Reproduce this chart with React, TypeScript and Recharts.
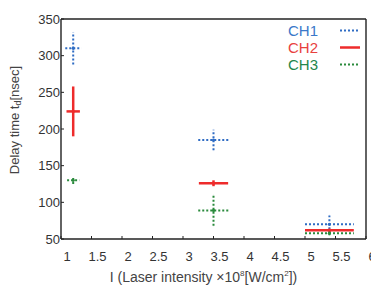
import React from 'react';
import { ScatterChart, Scatter, XAxis, YAxis, ErrorBar, Legend } from 'recharts';

// Laser intensity (×10^8 W/cm²) at which each group of delays was measured
const intensity = [1.2, 3.5, 5.4];

// Delay time t_d [nsec] per channel, with spreads in delay and intensity
const ch1Delay = [310, 185, 70];
const ch1DelayErr = [22, 14, 12];
const ch1IntensityErr = [0.13, 0.25, 0.4];

const ch2Delay = [224, 126, 62];
const ch2DelayErr = [34, 4, 2];
const ch2IntensityErr = [0.11, 0.24, 0.4];

const ch3Delay = [130, 89, 58];
const ch3DelayErr = [5, 21, 3];
const ch3IntensityErr = [0.1, 0.25, 0.4];

const xTicks = [1, 1.5, 2, 2.5, 3, 3.5, 4, 4.5, 5, 5.5, 6];
const yTicks = [50, 100, 150, 200, 250, 300, 350];

const channels = [
  { name: 'CH1', color: '#2f6cc4', text: '#3a78c9', width: 2, dash: '2 2', delay: ch1Delay, delayErr: ch1DelayErr, intErr: ch1IntensityErr },
  { name: 'CH2', color: '#ee2b2b', text: '#e8413e', width: 2.5, dash: undefined, delay: ch2Delay, delayErr: ch2DelayErr, intErr: ch2IntensityErr },
  { name: 'CH3', color: '#2a8a3c', text: '#23874a', width: 2, dash: '2 2', delay: ch3Delay, delayErr: ch3DelayErr, intErr: ch3IntensityErr },
];

const buildRows = (delay: number[], delayErr: number[], intErr: number[]) =>
  intensity.map((x, i) => ({ intensity: x, delay: delay[i], delayErr: delayErr[i], intensityErr: intErr[i] }));

const FONT = '"Liberation Sans", Arial, Helvetica, sans-serif';
const AXIS = '#222';

const BottomTick = (props: any) => {
  const { x, y, payload } = props;
  return (
    <g>
      <line x1={x} x2={x} y1={y} y2={y - 3} stroke={AXIS} strokeWidth={1} />
      <text x={x + 6} y={y + 22} textAnchor="middle" fontSize={13} fontFamily={FONT} fill="#333">
        {payload.value}
      </text>
    </g>
  );
};

const TopTick = (props: any) => {
  const { x, y } = props;
  return <line x1={x} x2={x} y1={y} y2={y + 3} stroke={AXIS} strokeWidth={1} />;
};

const LeftTick = (props: any) => {
  const { x, y, payload } = props;
  return (
    <g>
      <line x1={x} x2={x + 3} y1={y} y2={y} stroke={AXIS} strokeWidth={1} />
      <text x={x - 1} y={y + 4.5} textAnchor="end" fontSize={13} fontFamily={FONT} fill="#333">
        {payload.value}
      </text>
    </g>
  );
};

const RightTick = (props: any) => {
  const { x, y } = props;
  return <line x1={x} x2={x - 3} y1={y} y2={y} stroke={AXIS} strokeWidth={1} />;
};

const XLabel = (props: any) => {
  const { viewBox } = props;
  const cx = viewBox.x + viewBox.width / 2 - 10;
  const y = viewBox.y + 43;
  return (
    <text x={cx} y={y} textAnchor="middle" fontSize={14} fontFamily={FONT} fill="#444">
      I (Laser intensity ×10
      <tspan fontSize={8} dy={-6}>8</tspan>
      <tspan dy={6}>[W/cm</tspan>
      <tspan fontSize={8} dy={-6}>2</tspan>
      <tspan dy={6}>])</tspan>
    </text>
  );
};

const YLabel = () => {
  const bx = 19;
  const cy = 120;
  return (
    <text
      transform={`translate(${bx},${cy}) rotate(-90)`}
      x={0}
      y={0}
      textAnchor="middle"
      fontSize={13}
      fontFamily={FONT}
      fill="#444"
    >
      Delay time t
      <tspan fontSize={9} dy={2}>d</tspan>
      <tspan dy={-2}>[nsec]</tspan>
    </text>
  );
};

const LegendBox = () => (
  <div style={{ fontFamily: FONT, fontSize: 15, lineHeight: '17px' }}>
    {channels.map((c) => (
      <div key={c.name} style={{ display: 'flex', alignItems: 'center', height: 17 }}>
        <span style={{ width: 38, textAlign: 'right', color: c.text }}>{c.name}</span>
        <svg width={42} height={17} style={{ display: 'block' }}>
          <line x1={22} x2={42} y1={8.5} y2={8.5} stroke={c.color} strokeWidth={c.width} strokeDasharray={c.dash} />
        </svg>
      </div>
    ))}
  </div>
);

const CenterDot = (color: string) => (props: any) => {
  const { cx, cy } = props;
  return <circle cx={cx} cy={cy} r={1.6} fill={color} />;
};

export default function App() {
  return (
    <div style={{ position: 'absolute', left: 0, top: 0, width: 371, height: 289, background: '#fff' }}>
      <ScatterChart width={371} height={289} margin={{ top: 18, right: 4, bottom: 0, left: 0 }}>
        <XAxis
          xAxisId={0}
          orientation="bottom"
          type="number"
          dataKey="intensity"
          domain={[1, 6]}
          ticks={xTicks}
          interval={0}
          height={50}
          tickSize={0}
          tickMargin={0}
          tick={<BottomTick />}
          axisLine={{ stroke: AXIS, strokeWidth: 1.4 }}
          tickLine={false}
          label={XLabel}
        />
        <XAxis
          xAxisId="top"
          orientation="top"
          type="number"
          dataKey="intensity"
          domain={[1, 6]}
          ticks={xTicks}
          interval={0}
          height={1}
          tickSize={0}
          tickMargin={0}
          tick={<TopTick />}
          axisLine={{ stroke: AXIS, strokeWidth: 1.4 }}
          tickLine={false}
        />
        <YAxis
          yAxisId={0}
          orientation="left"
          type="number"
          dataKey="delay"
          domain={[50, 350]}
          ticks={yTicks}
          interval={0}
          width={61}
          tickSize={0}
          tickMargin={0}
          tick={<LeftTick />}
          axisLine={{ stroke: AXIS, strokeWidth: 1.4 }}
          tickLine={false}
          label={YLabel}
        />
        <YAxis
          yAxisId="right"
          orientation="right"
          type="number"
          domain={[50, 350]}
          ticks={yTicks}
          interval={0}
          width={1}
          tickSize={0}
          tickMargin={0}
          tick={<RightTick />}
          axisLine={{ stroke: AXIS, strokeWidth: 1.4 }}
          tickLine={false}
        />
        {channels.map((c) => (
          <Scatter
            key={c.name}
            name={c.name}
            xAxisId={0}
            yAxisId={0}
            data={buildRows(c.delay, c.delayErr, c.intErr)}
            dataKey="delay"
            fill={c.color}
            shape={CenterDot(c.color)}
            isAnimationActive={false}
          >
            <ErrorBar dataKey="delayErr" direction="y" width={0} stroke={c.color} strokeWidth={c.width} strokeDasharray={c.dash} />
            <ErrorBar dataKey="intensityErr" direction="x" width={0} stroke={c.color} strokeWidth={c.width} strokeDasharray={c.dash} />
          </Scatter>
        ))}
        <Legend
          layout="vertical"
          align="center"
          verticalAlign="middle"
          wrapperStyle={{ top: 22, left: 280, width: 'auto', height: 'auto' }}
          content={<LegendBox />}
        />
      </ScatterChart>
    </div>
  );
}
